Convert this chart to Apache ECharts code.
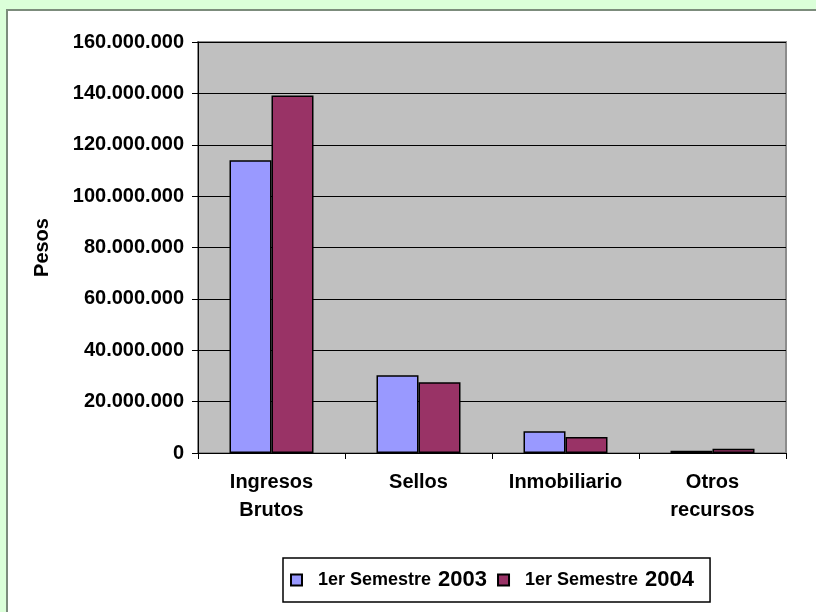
<!DOCTYPE html>
<html>
<head>
<meta charset="utf-8">
<script src="https://cdn.jsdelivr.net/npm/echarts@6/dist/echarts.min.js"></script>
<style>
  html, body { margin: 0; padding: 0; background: #DBFFD9; }
  #main { width: 816px; height: 612px; }
</style>
</head>
<body>
<div id="main"></div>
<script>
// categories and values (pesos)
var categories = ["Ingresos\nBrutos", "Sellos", "Inmobiliario", "Otros\nrecursos"];
var sem2003 = [114000000, 30300000, 8500000, 900000];
var sem2004 = [139200000, 27500000, 6200000, 1700000];
var yTicks = [0, 20000000, 40000000, 60000000, 80000000, 100000000, 120000000, 140000000, 160000000];

var font = "'Liberation Sans', Arial, sans-serif";

function miles(v) {
  return String(v).replace(/\B(?=(\d{3})+(?!\d))/g, ".");
}

var chart = echarts.init(document.getElementById("main"));
chart.setOption({
  backgroundColor: "#DBFFD9",
  animation: false,
  graphic: [
    {
      type: "rect",
      z: -10,
      shape: { x: 7, y: 10, width: 830, height: 640 },
      style: { fill: "#ffffff", stroke: "#7C8C7C", lineWidth: 2 }
    }
  ],
  grid: {
    left: 198,
    top: 42,
    width: 588,
    height: 411,
    show: true,
    backgroundColor: "#C0C0C0",
    borderColor: "#8C8C8C",
    borderWidth: 2
  },
  legend: {
    left: 283,
    top: 558,
    orient: "horizontal",
    icon: "rect",
    itemWidth: 11,
    itemHeight: 11,
    itemGap: 10,
    padding: [11, 16, 11, 7],
    borderColor: "#000",
    borderWidth: 1.5,
    backgroundColor: "#fff",
    formatter: function (name) {
      var p = name.split(" ");
      return "{a|" + p[0] + " " + p[1] + "}{b|" + p[2] + "}";
    },
    textStyle: {
      rich: {
        a: { fontFamily: font, fontWeight: "bold", fontSize: 18, color: "#000", padding: [0, 7, 0, 11] },
        b: { fontFamily: font, fontWeight: "bold", fontSize: 22, color: "#000" }
      }
    }
  },
  xAxis: {
    type: "category",
    data: categories,
    axisLine: { lineStyle: { color: "#000", width: 1 } },
    axisTick: { show: true, length: 6, lineStyle: { color: "#000" } },
    axisLabel: {
      interval: 0,
      color: "#000",
      fontFamily: font,
      fontWeight: "bold",
      fontSize: 20,
      lineHeight: 28,
      margin: 15
    }
  },
  yAxis: {
    type: "value",
    min: 0,
    max: 160000000,
    interval: 20000000,
    name: "Pesos",
    nameLocation: "middle",
    nameGap: 146,
    nameTextStyle: { color: "#000", fontFamily: font, fontWeight: "bold", fontSize: 20 },
    axisLine: { show: true, lineStyle: { color: "#000", width: 1 } },
    axisTick: { show: true, length: 6, lineStyle: { color: "#000" } },
    axisLabel: {
      color: "#000",
      fontFamily: font,
      fontWeight: "bold",
      fontSize: 20,
      margin: 14,
      formatter: function (v) { return yTicks.indexOf(v) >= 0 ? miles(v) : ""; }
    },
    splitLine: { show: true, lineStyle: { color: "#000", width: 1 } }
  },
  series: [
    {
      name: "1er Semestre 2003",
      type: "bar",
      data: sem2003,
      barWidth: 42,
      barGap: "0%",
      itemStyle: { color: "#9999FF", borderColor: "#000", borderWidth: 1.5 }
    },
    {
      name: "1er Semestre 2004",
      type: "bar",
      data: sem2004,
      barWidth: 42,
      itemStyle: { color: "#993366", borderColor: "#000", borderWidth: 1.5 }
    }
  ]
});
</script>
</body>
</html>
